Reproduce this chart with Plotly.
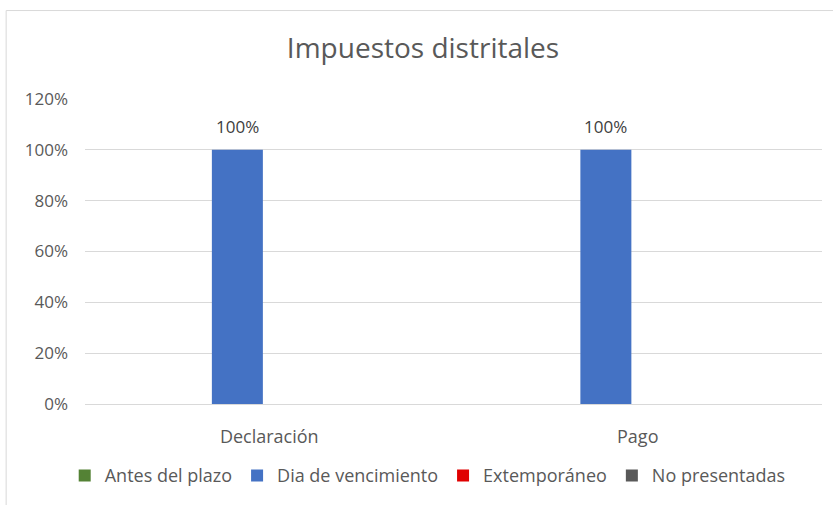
import plotly.graph_objects as go

categories = ["Declaración", "Pago"]
series_names = ["Antes del plazo", "Dia de vencimiento", "Extemporáneo", "No presentadas"]
antes = [0, 0]
dia = [1.0, 1.0]
extemp = [0, 0]
no_pres = [0, 0]
colors = ["#548235", "#4472C4", "#E00000", "#595959"]
y_ticks = [0, 0.2, 0.4, 0.6, 0.8, 1.0, 1.2]
y_tick_labels = ["0%", "20%", "40%", "60%", "80%", "100%", "120%"]

FONT = "Open Sans"
BARGAP = 0.308
BARGROUPGAP = 0.2
all_series = [antes, dia, extemp, no_pres]
n_series = len(all_series)

fig = go.Figure()
for name, vals, col in zip(series_names, all_series, colors):
    fig.add_trace(go.Bar(
        x=categories, y=vals, name=name, marker_color=col,
        marker_line_width=0,
    ))

# data labels for the "Dia de vencimiento" series, placed at the bar centre
slot = (1 - BARGAP) / n_series
idx = series_names.index("Dia de vencimiento")
offset = -(1 - BARGAP) / 2 + (idx + 0.5) * slot
annotations = []
for i, v in enumerate(dia):
    annotations.append(dict(
        x=i + offset, y=v, xref="x", yref="y", text=f"{v:.0%}",
        showarrow=False, yanchor="bottom", yshift=10,
        font=dict(family=FONT, size=17, color="#404040")))

fig.update_layout(
    width=833, height=505,
    margin=dict(l=85, r=11, t=99, b=98),
    paper_bgcolor="white", plot_bgcolor="white",
    barmode="group", bargap=BARGAP, bargroupgap=BARGROUPGAP,
    title=dict(text="Impuestos distritales", x=423 / 833, xanchor="center",
               y=1 - 48 / 505, yanchor="middle",
               font=dict(family=FONT, size=28, color="#595959")),
    font=dict(family=FONT, color="#595959"),
    showlegend=True,
    legend=dict(orientation="h", x=0.465, xanchor="center", y=-0.235, yanchor="middle",
                font=dict(family=FONT, size=18, color="#595959"),
                bgcolor="rgba(0,0,0,0)",
                itemwidth=30, traceorder="normal"),
    annotations=annotations,
    shapes=[dict(type="rect", xref="paper", yref="paper",
                 x0=-0.107, x1=1.2, y0=-0.6, y1=1.29,
                 line=dict(color="#D9D9D9", width=1), fillcolor="rgba(0,0,0,0)", layer="below")],
)
fig.update_yaxes(range=[0, 1.2], tickvals=y_ticks, ticktext=y_tick_labels,
                 gridcolor="#D9D9D9", gridwidth=1, zeroline=False, showline=False,
                 tickfont=dict(family=FONT, size=17, color="#595959"),
                 ticklabelstandoff=16)
fig.update_xaxes(showgrid=False, showline=True, linecolor="#D9D9D9", linewidth=1,
                 tickfont=dict(family=FONT, size=18, color="#595959"),
                 ticklabelstandoff=16)

fig.write_html("out.html", config={"displayModeBar": False},
               post_script="document.body.style.margin='0';")
